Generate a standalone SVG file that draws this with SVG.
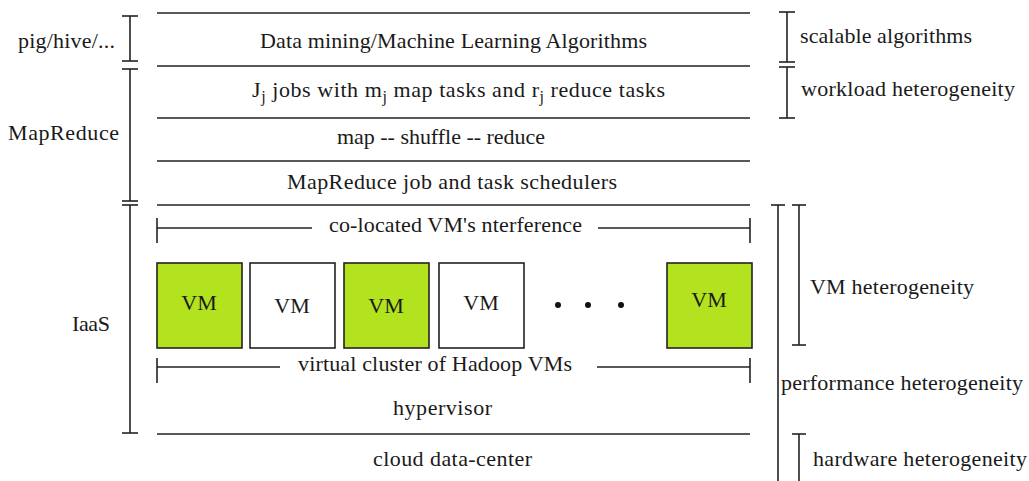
<svg xmlns="http://www.w3.org/2000/svg" width="1029" height="481" viewBox="0 0 1029 481">
  <style>
    text { font-family: "Liberation Serif", "Times New Roman", serif; font-size: 22px; fill: #1a1a1a; }
    .mid { text-anchor: middle; }
    .rule { stroke: #222; stroke-width: 1.6; fill: none; }
    .vm-on { fill: #b3e21e; stroke: #222; stroke-width: 1.6; }
    .vm-off { fill: #ffffff; stroke: #222; stroke-width: 1.6; }
    .sub { font-size: 16px; }
  </style>
  <rect width="1029" height="481" fill="#ffffff"/>

  <!-- layer separators -->
  <g id="layers" class="rule">
    <line x1="157" y1="13" x2="750" y2="13"/>
    <line x1="157" y1="66" x2="750" y2="66"/>
    <line x1="157" y1="118" x2="750" y2="118"/>
    <line x1="157" y1="161" x2="750" y2="161"/>
    <line x1="157" y1="205" x2="750" y2="205"/>
    <line x1="157" y1="434" x2="750" y2="434"/>
  </g>

  <!-- layer labels -->
  <g id="layer-algorithms"><text x="260" y="48" textLength="387" lengthAdjust="spacing">Data mining/Machine Learning Algorithms</text></g>
  <g id="layer-jobs"><text x="252" y="97" textLength="413" lengthAdjust="spacing">J<tspan class="sub" dy="5">j</tspan><tspan dy="-5"> jobs with m</tspan><tspan class="sub" dy="5">j</tspan><tspan dy="-5"> map tasks and r</tspan><tspan class="sub" dy="5">j</tspan><tspan dy="-5"> reduce tasks</tspan></text></g>
  <g id="layer-shuffle"><text x="337" y="144" textLength="208" lengthAdjust="spacing">map -- shuffle -- reduce</text></g>
  <g id="layer-schedulers"><text x="287" y="189" textLength="330" lengthAdjust="spacing">MapReduce job and task schedulers</text></g>
  <g id="layer-hypervisor"><text x="393" y="415" textLength="99" lengthAdjust="spacing">hypervisor</text></g>
  <g id="layer-datacenter"><text x="373" y="466" textLength="159" lengthAdjust="spacing">cloud data-center</text></g>

  <!-- span markers inside the IaaS layer -->
  <g id="span-interference" class="rule">
    <line x1="157" y1="228" x2="312" y2="228"/>
    <line x1="157" y1="218" x2="157" y2="243"/>
    <line x1="598" y1="228" x2="750" y2="228"/>
    <line x1="750" y1="218" x2="750" y2="243"/>
  </g>
  <text x="329" y="232" textLength="253" lengthAdjust="spacing">co-located VM's nterference</text>

  <g id="span-cluster" class="rule">
    <line x1="157" y1="367" x2="280" y2="367"/>
    <line x1="157" y1="358" x2="157" y2="383"/>
    <line x1="597" y1="367" x2="750" y2="367"/>
    <line x1="750" y1="358" x2="750" y2="383"/>
  </g>
  <text x="298" y="371" textLength="274" lengthAdjust="spacing">virtual cluster of Hadoop VMs</text>

  <!-- virtual machines -->
  <g id="vm1"><rect class="vm-on" x="157" y="263" width="85" height="85"/><text class="mid" x="199" y="310">VM</text></g>
  <g id="vm2"><rect class="vm-off" x="250" y="263" width="85" height="85"/><text class="mid" x="292" y="313">VM</text></g>
  <g id="vm3"><rect class="vm-on" x="344" y="263" width="85" height="85"/><text class="mid" x="386" y="313">VM</text></g>
  <g id="vm4"><rect class="vm-off" x="439" y="263" width="85" height="85"/><text class="mid" x="481" y="310">VM</text></g>
  <g id="vm-more">
    <circle cx="558" cy="305" r="3" fill="#111"/>
    <circle cx="588" cy="305" r="3" fill="#111"/>
    <circle cx="621" cy="305" r="3" fill="#111"/>
  </g>
  <g id="vmN"><rect class="vm-on" x="667" y="263" width="85" height="85"/><text class="mid" x="709" y="307">VM</text></g>

  <!-- left-side stack brackets -->
  <g id="left-brackets" class="rule">
    <line x1="130" y1="16" x2="130" y2="61"/>
    <line x1="122" y1="16" x2="138" y2="16"/>
    <line x1="122" y1="61" x2="138" y2="61"/>
    <line x1="130" y1="69" x2="130" y2="201"/>
    <line x1="122" y1="69" x2="138" y2="69"/>
    <line x1="122" y1="201" x2="138" y2="201"/>
    <line x1="130" y1="205" x2="130" y2="433"/>
    <line x1="122" y1="205" x2="138" y2="205"/>
    <line x1="122" y1="433" x2="138" y2="433"/>
  </g>
  <g id="label-pig"><text x="18" y="48" textLength="97" lengthAdjust="spacing">pig/hive/...</text></g>
  <g id="label-mapreduce"><text x="8" y="140" textLength="111" lengthAdjust="spacing">MapReduce</text></g>
  <g id="label-iaas"><text x="72" y="331" textLength="38" lengthAdjust="spacing">IaaS</text></g>

  <!-- right-side heterogeneity brackets -->
  <g id="right-brackets" class="rule">
    <line x1="787" y1="12" x2="787" y2="62"/>
    <line x1="779" y1="12" x2="795" y2="12"/>
    <line x1="779" y1="62" x2="795" y2="62"/>
    <line x1="787" y1="67" x2="787" y2="118"/>
    <line x1="779" y1="67" x2="795" y2="67"/>
    <line x1="779" y1="118" x2="795" y2="118"/>
    <line x1="778" y1="205" x2="778" y2="481"/>
    <line x1="771" y1="205" x2="785" y2="205"/>
    <line x1="799" y1="205" x2="799" y2="345"/>
    <line x1="792" y1="205" x2="806" y2="205"/>
    <line x1="792" y1="345" x2="806" y2="345"/>
    <line x1="799" y1="434" x2="799" y2="481"/>
    <line x1="792" y1="434" x2="806" y2="434"/>
  </g>
  <g id="label-scalable"><text x="800" y="43" textLength="172" lengthAdjust="spacing">scalable algorithms</text></g>
  <g id="label-workload"><text x="801" y="96" textLength="214" lengthAdjust="spacing">workload heterogeneity</text></g>
  <g id="label-vm-het"><text x="810" y="294" textLength="164" lengthAdjust="spacing">VM heterogeneity</text></g>
  <g id="label-perf-het"><text x="781" y="390" textLength="242" lengthAdjust="spacing">performance heterogeneity</text></g>
  <g id="label-hw-het"><text x="813" y="466" textLength="214" lengthAdjust="spacing">hardware heterogeneity</text></g>
</svg>
